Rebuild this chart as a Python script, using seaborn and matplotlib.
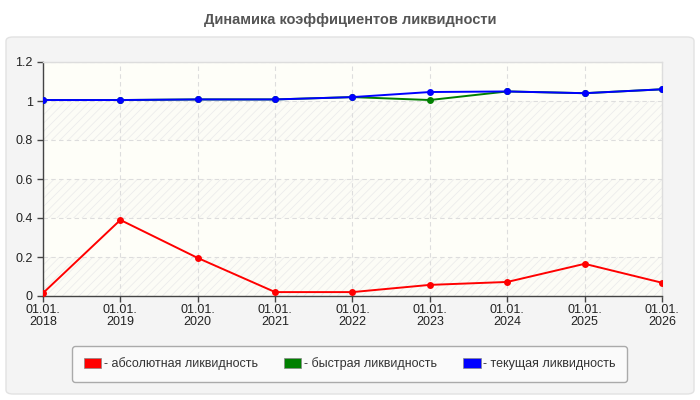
import numpy as np
import pandas as pd
import seaborn as sns
import matplotlib.pyplot as plt
from matplotlib.patches import FancyBboxPatch, Patch
from matplotlib.ticker import FuncFormatter

# данные
years = ["2018", "2019", "2020", "2021", "2022", "2023", "2024", "2025", "2026"]
absolute = [0.015, 0.39, 0.195, 0.02, 0.02, 0.057, 0.072, 0.165, 0.068]
quick = [1.005, 1.005, 1.008, 1.008, 1.02, 1.005, 1.049, 1.04, 1.06]
current = [1.005, 1.005, 1.008, 1.008, 1.02, 1.046, 1.049, 1.04, 1.06]
names = ["абсолютная ликвидность", "быстрая ликвидность", "текущая ликвидность"]
colors = ["#ff0000", "#008000", "#0000ff"]

sns.set_style("white")
plt.rcParams["font.family"] = ["Liberation Sans", "DejaVu Sans"]
plt.rcParams["hatch.linewidth"] = 0.6

rows = []
for name, vals in zip(names, [absolute, quick, current]):
    for i, v in enumerate(vals):
        rows.append({"pos": i, "val": v, "series": name})
df = pd.DataFrame(rows)

fig = plt.figure(figsize=(7, 4), dpi=100)
W, H = 700, 400

# серая подложка
fig.patches.append(FancyBboxPatch((6 / W, 6 / H), 688 / W, 357 / H,
                                  boxstyle="round,pad=0,rounding_size=0.01",
                                  transform=fig.transFigure, facecolor="#f4f4f4",
                                  edgecolor="#e2e2e2", linewidth=1, zorder=-10))
fig.text(0.5, 1 - 20 / H, "Динамика коэффициентов ликвидности", ha="center", va="center",
         fontsize=10.5, fontweight="bold", color="#555555")

ax = fig.add_axes([43 / W, 104 / H, 619 / W, 234 / H])
ax.set_facecolor("#fefef8")
for k in range(6):
    if k % 2 == 0:
        ax.axhspan(k * 0.2, k * 0.2 + 0.2, facecolor="#fcfcf6", edgecolor="#ececec",
                   hatch="////", linewidth=0, zorder=0)

sns.lineplot(data=df, x="pos", y="val", hue="series", palette=colors, hue_order=names,
             marker="o", markersize=5, markeredgewidth=0, linewidth=1.4, sort=False,
             legend=False, ax=ax, zorder=3)

ax.set_xlim(0, len(years) - 1)
ax.set_ylim(0, 1.2)
ax.set_xticks(range(len(years)))
ax.set_xticklabels(["01.01.\n" + y for y in years], linespacing=1.0)
ax.set_yticks(np.arange(0, 1.21, 0.2))
ax.yaxis.set_major_formatter(FuncFormatter(lambda v, p: f"{v:g}"))
ax.grid(True, linestyle=(0, (4, 3)), color="#dddddd", linewidth=0.8, zorder=1)
ax.set_axisbelow(True)
ax.set_xlabel("")
ax.set_ylabel("")
ax.tick_params(axis="both", which="both", length=4, width=1, color="#444444",
               labelsize=9, labelcolor="#222222", direction="out", bottom=True, left=True)
ax.tick_params(axis="x", pad=2)
for s in ["left", "bottom"]:
    ax.spines[s].set_color("#444444")
    ax.spines[s].set_linewidth(1)
for s in ["top", "right"]:
    ax.spines[s].set_color("#dddddd")
    ax.spines[s].set_linewidth(1)

handles = [Patch(facecolor=c, edgecolor="#888888", linewidth=0.5, label="- " + n)
           for c, n in zip(colors, names)]
leg = fig.legend(handles=handles, ncol=3, loc="center",
                 bbox_to_anchor=(66 / W, 17 / H, 567 / W, 38 / H), mode="expand",
                 frameon=True, fancybox=True, fontsize=9, handlelength=1.4,
                 handleheight=0.8, handletextpad=0.2, columnspacing=2.0, borderpad=0.9)
leg.get_frame().set_facecolor("#fafafa")
leg.get_frame().set_edgecolor("#aaaaaa")
leg.get_frame().set_alpha(1)
for t in leg.get_texts():
    t.set_color("#333333")

fig.savefig("out.png", dpi=100)
